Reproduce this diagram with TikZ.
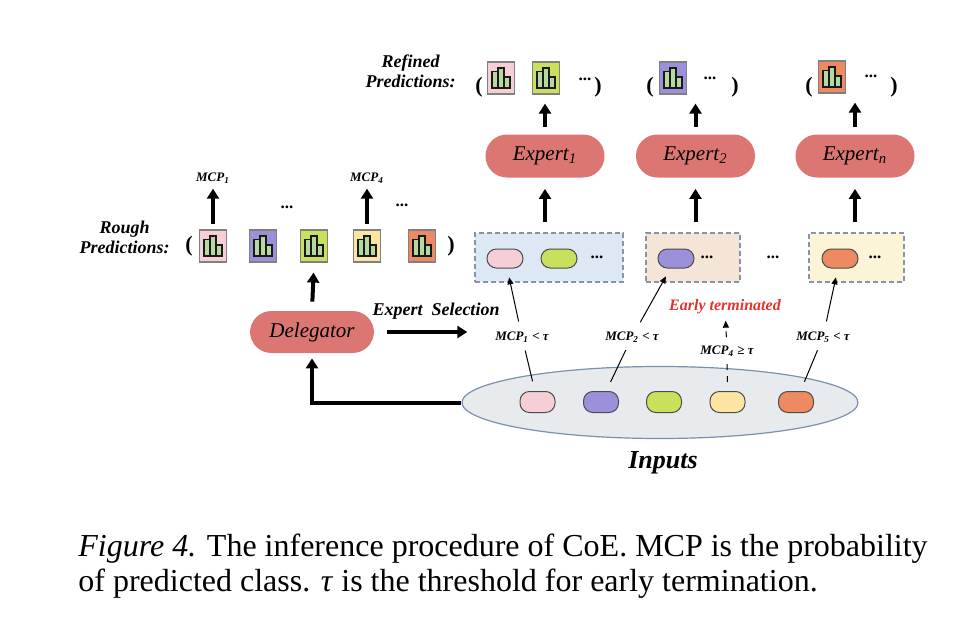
\documentclass[tikz,border=0pt]{standalone}
\usepackage{fontspec}
\setmainfont{Liberation Serif}
\usetikzlibrary{positioning, arrows.meta, shapes.geometric}

\definecolor{cpink}{HTML}{F6CFD6}
\definecolor{cpurple}{HTML}{9D90DA}
\definecolor{clime}{HTML}{C8E05C}
\definecolor{cyellow}{HTML}{FCE4A2}
\definecolor{corange}{HTML}{EE8A62}
\definecolor{bargreen}{HTML}{B5D9A0}
\definecolor{salmon}{HTML}{DB7673}
\definecolor{gblue}{HTML}{DEE8F5}
\definecolor{gpeach}{HTML}{F4E5D7}
\definecolor{gyellow}{HTML}{FBF4D7}
\definecolor{gedge}{HTML}{8794A6}
\definecolor{infill}{HTML}{E8EBEE}
\definecolor{inedge}{HTML}{7A90AE}
\definecolor{cred}{HTML}{E5332C}

\tikzset{
  icon/.style={draw=black!50, line width=0.6pt, minimum width=13.5pt, minimum height=16pt, inner sep=0pt,
    path picture={
      \begin{scope}[shift={(path picture bounding box.center)}, draw=black!90, line width=0.75pt]
        \draw[fill=bargreen] (-4.4pt,-5pt) rectangle (-1.47pt,3.3pt);
        \draw[fill=bargreen] (-1.47pt,-5pt) rectangle (1.47pt,5pt);
        \draw[fill=bargreen] (1.47pt,-5pt) rectangle (4.4pt,0.5pt);
      \end{scope}}},
  block/.style={fill=salmon, minimum width=59.5pt, minimum height=21.5pt, rounded corners=10.7pt,
    inner sep=0pt, font=\fontsize{10.5}{12}\selectfont\itshape},
  tok/.style={draw=black!70, line width=0.5pt, minimum width=18pt, minimum height=9.5pt,
    rounded corners=4.7pt, inner sep=0pt},
  ebox/.style={draw=gedge, line width=0.7pt, dash pattern=on 2.5pt off 1.5pt, minimum height=24.5pt, inner sep=0pt},
  lab/.style={font=\fontsize{9}{10}\selectfont\bfseries\itshape, align=center, inner sep=1pt},
  mcp/.style={font=\fontsize{6.5}{8}\selectfont\bfseries\itshape, inner sep=1pt},
  dotsl/.style={font=\fontsize{8.5}{9}\selectfont\bfseries, inner sep=0pt, anchor=base},
  paren/.style={font=\fontsize{11}{12}\selectfont\bfseries, inner sep=0pt},
  captext/.style={font=\fontsize{16}{17.5}\selectfont, inner sep=0pt, anchor=base west},
  bigarrow/.style={-{Triangle[width=6pt, length=5pt]}, line width=2pt},
  thinarrow/.style={-{Triangle[width=3pt, length=3.5pt]}, line width=0.5pt}
}

\begin{document}
\begin{tikzpicture}[x=0.5pt, y=-0.5pt]
  \useasboundingbox (0,0) rectangle (960,627);

  % rough predictions of the delegator
  \node[lab, anchor=east] (rough) at (172,237) {Rough\\Predictions:};
  \node[paren] (rl) at (189,246) {(};
  \node[icon, fill=cpink] (r1) at (213,246) {};
  \node[icon, fill=cpurple] (r2) at (263,246) {};
  \node[icon, fill=clime] (r3) at (314,246) {};
  \node[icon, fill=cyellow] (r4) at (367,246) {};
  \node[icon, fill=corange] (r5) at (422,246) {};
  \node[paren] (rr) at (451,246) {)};

  \node[mcp] (mr1) at (213,178) {MCP\textsubscript{1}};
  \node[mcp] (mr4) at (367,178) {MCP\textsubscript{4}};
  \node[dotsl] (dr1) at (287,208.5) {...};
  \node[dotsl] (dr2) at (402,206.5) {...};
  \path[bigarrow, shorten <=2.5pt, shorten >=1.5pt] (r1) edge (mr1);
  \path[bigarrow, shorten <=2.5pt, shorten >=1.5pt] (r4) edge (mr4);

  % delegator
  \node[block, minimum width=62pt, minimum height=21pt] (deleg) at (312,332) {Delegator};
  \draw[bigarrow, shorten <=4.5pt, shorten >=5pt] (deleg.north) -- (r3.south);

  % experts and refined predictions
  \node[lab, anchor=east] (refined) at (458,71) {Refined\\Predictions:};
  \node[block] (e1) at (545,156) {Expert\textsubscript{1}};
  \node[block] (e2) at (695.5,156) {Expert\textsubscript{2}};
  \node[block] (e3) at (855,156) {Expert\textsubscript{\itshape n}};

  \node[paren] (fl1) at (479,87) {(};
  \node[icon, fill=cpink] (f1) at (501,78) {};
  \node[icon, fill=clime] (f2) at (546,78) {};
  \node[dotsl] (df1) at (585,80.5) {...};
  \node[paren] (fr1) at (598,87) {)};

  \node[paren] (fl2) at (650,87) {(};
  \node[icon, fill=cpurple] (f3) at (673,78) {};
  \node[dotsl] (df2) at (710,79.5) {...};
  \node[paren] (fr2) at (735,87) {)};

  \node[paren] (fl3) at (809,87) {(};
  \node[icon, fill=corange] (f4) at (832,77) {};
  \node[dotsl] (df3) at (871,77.5) {...};
  \node[paren] (fr3) at (894,87) {)};

  \draw[bigarrow, shorten <=3.5pt, shorten >=4.5pt] (e1.north) -- (e1.north |- f2.south);
  \draw[bigarrow, shorten <=3.5pt, shorten >=4.5pt] (e2.north) -- (e2.north |- f3.south);
  \draw[bigarrow, shorten <=3.5pt, shorten >=4.5pt] (e3.north) -- (e3.north |- f4.south);

  % selected samples per expert
  \node[ebox, fill=gblue, minimum width=74pt] (g1) at (549,257.5) {};
  \node[ebox, fill=gpeach, minimum width=47pt] (g2) at (693,257.5) {};
  \node[ebox, fill=gyellow, minimum width=47.5pt] (g3) at (856.5,257.5) {};
  \node[tok, fill=cpink] (p1) at (505,258.5) {};
  \node[tok, fill=clime] (p2) at (559,258.5) {};
  \node[dotsl] (dg1) at (597,258.5) {...};
  \node[tok, fill=cpurple] (p3) at (676,258.5) {};
  \node[dotsl] (dg2) at (707,258.5) {...};
  \node[dotsl] (dg0) at (773,258.5) {...};
  \node[tok, fill=corange] (p5) at (840,258.5) {};
  \node[dotsl] (dg3) at (875,258.5) {...};

  \draw[bigarrow, shorten <=5pt, shorten >=5.5pt] (e1.south |- g1.north) -- (e1.south);
  \draw[bigarrow, shorten <=5pt, shorten >=5.5pt] (e2.south |- g2.north) -- (e2.south);
  \draw[bigarrow, shorten <=5pt, shorten >=5.5pt] (e3.south |- g3.north) -- (e3.south);

  \draw[bigarrow, shorten <=6.5pt, shorten >=3.5pt] (deleg.east) -- (deleg.east -| g1.west);
  \node[lab] (sel) at (436,311) {Expert~ Selection};

  % inputs
  \node[ellipse, draw=inedge, fill=infill, line width=0.6pt, minimum width=198pt, minimum height=36pt] (inp) at (660,402.5) {};
  \node[tok, fill=cpink, minimum width=17.5pt, minimum height=10.5pt] (i1) at (537.5,402) {};
  \node[tok, fill=cpurple, minimum width=17.5pt, minimum height=10.5pt] (i2) at (601,402) {};
  \node[tok, fill=clime, minimum width=17.5pt, minimum height=10.5pt] (i3) at (664,402) {};
  \node[tok, fill=cyellow, minimum width=17.5pt, minimum height=10.5pt] (i4) at (727.5,402) {};
  \node[tok, fill=corange, minimum width=17.5pt, minimum height=10.5pt] (i5) at (796,402) {};
  \node[lab, font=\fontsize{13}{14}\selectfont\bfseries\itshape] (inputs) at (663,463) {Inputs};

  \draw[bigarrow, shorten >=2.5pt] (inp.west) -| (deleg.south);

  % thresholds
  \node[mcp] (m1) at (522,337) {MCP\textsubscript{1} < τ};
  \node[mcp] (m2) at (632,337) {MCP\textsubscript{2} < τ};
  \node[mcp] (m4) at (727,351) {MCP\textsubscript{4} ≥ τ};
  \node[mcp] (m5) at (823,337) {MCP\textsubscript{5} < τ};
  \node[lab, text=cred, font=\fontsize{8}{9}\selectfont\bfseries\itshape] (early) at (725,307) {Early terminated};

  \draw[line width=0.5pt, shorten <=5pt, shorten >=3pt] (i1) -- (m1);
  \draw[thinarrow, shorten <=4pt, shorten >=4.5pt] (m1) -- (p1);
  \draw[line width=0.5pt, shorten <=5pt, shorten >=3pt] (i2) -- (m2);
  \draw[thinarrow, shorten <=4pt, shorten >=4.5pt] (m2) -- (p3);
  \draw[line width=0.5pt, dashed, shorten <=4.5pt, shorten >=2pt] (i4) -- (m4);
  \draw[thinarrow, dashed, shorten <=3pt, shorten >=2pt] (m4) -- (early);
  \draw[line width=0.5pt, shorten <=5pt, shorten >=3pt] (i5) -- (m5);
  \draw[thinarrow, shorten <=4pt, shorten >=4.5pt] (m5) -- (p5);

  % caption
  \node[captext] (cap1) at (78,556) {\textit{Figure 4.} The inference procedure of CoE. MCP is the probability};
  \node[captext] (cap2) at (78,591) {of predicted class. \textit{τ} is the threshold for early termination.};

\end{tikzpicture}
\end{document}
